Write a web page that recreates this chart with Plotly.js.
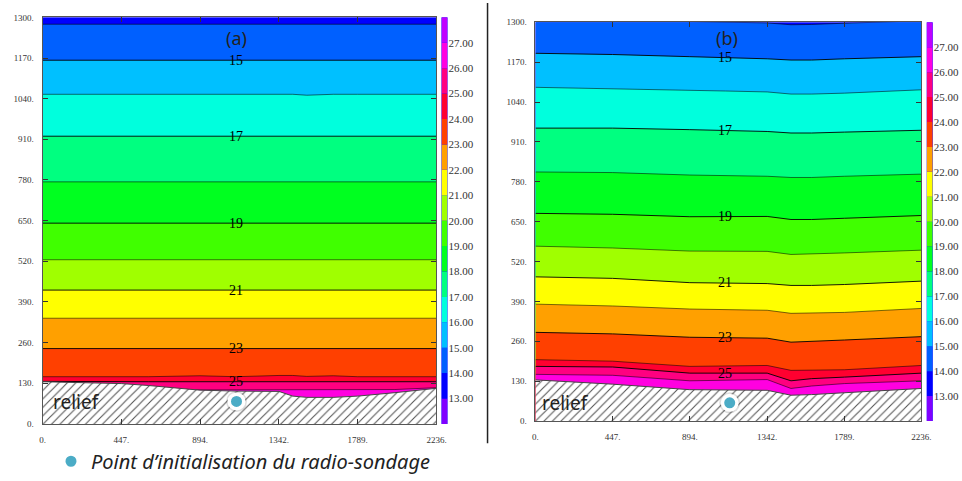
<!DOCTYPE html>
<html><head><meta charset="utf-8">
<script src="https://cdn.plot.ly/plotly-3.0.1.min.js"></script>
<style>html,body{margin:0;padding:0;background:#fff}#chart{width:962px;height:481px}</style>
</head><body><div id="chart"></div>
<script>
// ---- data ----
const LEVELS = [14, 15, 16, 17, 18, 19, 20, 21, 22, 23, 24, 25, 26];
const LABELED_LEVELS = [15, 17, 19, 21, 23, 25];
// band colours: <13, 13-14, 14-15, ..., 26-27, >27
const BAND_COLORS = ['#8000ff', '#0000ff', '#0060ff', '#00c0ff', '#00ffdd', '#00ff80', '#00ff20', '#40ff00',
  '#a0ff00', '#ffff00', '#ffa000', '#ff4000', '#ff0030', '#ff0080', '#ff00e0', '#c000ff'];
const BAND_BASES = [12, 13, 14, 15, 16, 17, 18, 19, 20, 21, 22, 23, 24, 25, 26, 27];
const COLORBAR_TICKS = [13, 14, 15, 16, 17, 18, 19, 20, 21, 22, 23, 24, 25, 26, 27];
const COLORBAR_TEXT = ['13.00', '14.00', '15.00', '16.00', '17.00', '18.00', '19.00', '20.00', '21.00',
  '22.00', '23.00', '24.00', '25.00', '26.00', '27.00'];
const X_TICKS = [0, 447, 894, 1342, 1789, 2236];
const X_TEXT = ['0.', '447.', '894.', '1342.', '1789.', '2236.'];
const Y_TICKS = [0, 130, 260, 390, 520, 650, 780, 910, 1040, 1170, 1300];
const Y_TEXT = ['0.', '130.', '260.', '390.', '520.', '650.', '780.', '910.', '1040.', '1170.', '1300.'];

// panel (a): isotherm heights (m) at stations along the section
const X_A = [0, 200, 447, 600, 894, 1100, 1342, 1420, 1500, 1650, 1789, 2000, 2236];
const ISO_A = [
  [1278, 1278, 1278, 1278, 1278, 1278, 1278, 1278, 1278, 1278, 1278, 1278, 1278], // 14
  [1163, 1163, 1163, 1163, 1163, 1163, 1163, 1163, 1163, 1163, 1163, 1163, 1163], // 15
  [1054, 1054, 1054, 1054, 1054, 1054, 1054, 1054, 1051, 1054, 1054, 1054, 1054], // 16
  [920, 920, 920, 920, 920, 920, 920, 920, 920, 920, 920, 920, 920],             // 17
  [774, 774, 774, 774, 774, 774, 774, 774, 774, 774, 774, 774, 774],             // 18
  [642, 642, 641, 640, 641, 642, 642, 642, 642, 642, 642, 642, 642],             // 19
  [525, 525, 525, 525, 525, 525, 525, 525, 525, 525, 525, 525, 525],             // 20
  [428, 428, 428, 428, 428, 428, 428, 428, 428, 428, 428, 428, 428],             // 21
  [338, 338, 338, 338, 338, 338, 338, 338, 338, 338, 338, 338, 338],             // 22
  [241, 241, 241, 241, 241, 241, 241, 241, 241, 241, 241, 241, 241],             // 23
  [151, 151, 151, 151, 154, 151, 155, 155, 152, 154, 151, 151, 151],             // 24
  [136, 135, 135, 135, 135, 135, 135, 135, 135, 135, 135, 135, 135],             // 25
  [108, 108, 108, 108, 108, 108, 108, 108, 108, 108, 108, 110, 116]              // 26
];
const RELIEF_A = [135, 133, 129, 123, 108, 105, 104, 89, 85, 85, 89, 100, 114];

// panel (b)
const X_B = [0, 447, 894, 1100, 1342, 1480, 1600, 1789, 2236];
const ISO_B = [
  [1312, 1308, 1304, 1302, 1298, 1292, 1293, 1297, 1305], // 14
  [1199, 1195, 1188, 1185, 1181, 1177, 1177, 1181, 1188], // 15
  [1088, 1084, 1078, 1076, 1073, 1066, 1066, 1069, 1080], // 16
  [955, 955, 950, 948, 944, 939, 939, 942, 948],          // 17
  [812, 810, 802, 800, 798, 794, 794, 798, 805],          // 18
  [677, 674, 666, 666, 667, 657, 657, 661, 670],          // 19
  [570, 564, 554, 554, 553, 543, 544, 548, 557],          // 20
  [470, 465, 451, 450, 448, 442, 442, 445, 456],          // 21
  [381, 375, 365, 363, 361, 351, 352, 354, 367],          // 22
  [289, 284, 273, 272, 270, 257, 259, 264, 275],          // 23
  [200, 195, 178, 179, 181, 165, 165, 167, 181],          // 24
  [178, 176, 156, 156, 156, 131, 138, 143, 156],          // 25
  [152, 149, 131, 132, 135, 106, 114, 122, 131]           // 26
];
const RELIEF_B = [134, 120, 102, 101, 100, 84, 86, 92, 106];

const SONDE_X = [1101, 1125];
const SONDE_H = [72, 59];
const LABEL_STATION_A = 5; // x = 1100
const LABEL_STATION_B = 3; // x = 1100

// ---- build ----
const traces = [];
const annotations = [];
function panel(X, ISO, RELIEF, xa, ya, sx, sh, labelIdx, showLeg) {
  LEVELS.forEach((lev, i) => {
    traces.push({
      type: 'scatter', mode: 'lines', x: X, y: ISO[i], xaxis: xa, yaxis: ya,
      fill: 'tozeroy', fillcolor: BAND_COLORS[lev - 12],
      line: {color: LABELED_LEVELS.includes(lev) ? '#000' : 'rgba(0,0,0,0.6)', width: 0.9},
      hoverinfo: 'skip', showlegend: false
    });
    if (LABELED_LEVELS.includes(lev)) {
      annotations.push({
        xref: xa, yref: ya, x: X[labelIdx], y: ISO[i][labelIdx], text: String(lev),
        showarrow: false, font: {family: 'Liberation Serif', size: 14, color: '#000'},
        xanchor: 'center', yanchor: 'middle'
      });
    }
  });
  traces.push({
    type: 'scatter', mode: 'lines', x: X, y: RELIEF, xaxis: xa, yaxis: ya,
    fill: 'tozeroy', fillcolor: 'white',
    fillpattern: {shape: '/', fgcolor: '#555', bgcolor: 'white', size: 6, solidity: 0.18},
    line: {color: '#444', width: 1}, hoverinfo: 'skip', showlegend: false
  });
  traces.push({
    type: 'scatter', mode: 'markers', x: [sx], y: [sh], xaxis: xa, yaxis: ya,
    marker: {size: 21, color: 'rgba(0,0,0,0.13)'}, hoverinfo: 'skip', showlegend: false
  });
  traces.push({
    type: 'scatter', mode: 'markers', x: [sx], y: [sh], xaxis: xa, yaxis: ya,
    name: 'Point d\u2019initialisation du radio-sondage',
    marker: {size: 14.5, color: '#4bacc6', line: {color: 'white', width: 3.5}},
    hoverinfo: 'skip', showlegend: showLeg
  });
}
panel(X_A, ISO_A, RELIEF_A, 'x', 'y', SONDE_X[0], SONDE_H[0], LABEL_STATION_A, true);
panel(X_B, ISO_B, RELIEF_B, 'x2', 'y2', SONDE_X[1], SONDE_H[1], LABEL_STATION_B, false);

// colour bars
[['x3', 'y3'], ['x4', 'y4']].forEach(([xa, ya]) => {
  traces.push({
    type: 'bar', x: BAND_BASES.map(() => 0), y: BAND_BASES.map(() => 1), base: BAND_BASES,
    width: 1, xaxis: xa, yaxis: ya, marker: {color: BAND_COLORS, line: {width: 0}},
    hoverinfo: 'skip', showlegend: false
  });
});

// panel texts
annotations.push(
  {xref: 'x', yref: 'y', x: 1101, y: 1234, text: '(a)', showarrow: false,
   font: {family: 'Noto Sans', size: 18, color: '#222'}},
  {xref: 'x2', yref: 'y2', x: 1112, y: 1250, text: '(b)', showarrow: false,
   font: {family: 'Noto Sans', size: 18, color: '#222'}},
  {xref: 'x', yref: 'y', x: 50, y: 69, text: 'relief', showarrow: false, xanchor: 'left',
   font: {family: 'Noto Sans', size: 19, color: '#222'}},
  {xref: 'x2', yref: 'y2', x: 28, y: 57, text: 'relief', showarrow: false, xanchor: 'left',
   font: {family: 'Noto Sans', size: 19, color: '#222'}}
);

const tickFont = {family: 'Liberation Serif', size: 9, color: '#333'};
function xAxis(domain, anchor) {
  return {domain, anchor, range: [0, 2236], tickmode: 'array', tickvals: X_TICKS, ticktext: X_TEXT,
    ticks: 'inside', ticklen: 5, tickcolor: '#333', mirror: 'ticks', showline: true, linecolor: '#555',
    linewidth: 1, showgrid: false, zeroline: false, tickfont: tickFont, ticklabelstandoff: 7, fixedrange: true};
}
function yAxis(domain, anchor) {
  return {domain, anchor, range: [0, 1300], tickmode: 'array', tickvals: Y_TICKS, ticktext: Y_TEXT,
    ticks: 'inside', ticklen: 5, tickcolor: '#333', mirror: 'ticks', showline: true, linecolor: '#555',
    linewidth: 1, showgrid: false, zeroline: false, tickfont: tickFont, ticklabelstandoff: 6, fixedrange: true};
}
function cbX(domain, anchor) {
  return {domain, anchor, range: [-0.5, 0.5], visible: false, fixedrange: true};
}
function cbY(domain, anchor) {
  return {domain, anchor, range: [12, 28], side: 'right', tickmode: 'array', tickvals: COLORBAR_TICKS,
    ticktext: COLORBAR_TEXT, ticks: '', showline: false, showgrid: false, zeroline: false,
    tickfont: {family: 'Liberation Serif', size: 11, color: '#333'}, ticklabelstandoff: 0, fixedrange: true};
}

const layout = {
  width: 962, height: 481, margin: {l: 0, r: 0, t: 0, b: 0},
  paper_bgcolor: 'white', plot_bgcolor: BAND_COLORS[1],
  xaxis: xAxis([0.04418, 0.45374], 'y'),
  yaxis: yAxis([0.11123, 0.96362], 'x'),
  xaxis2: xAxis([0.55665, 0.95790], 'y2'),
  yaxis2: yAxis([0.11746, 0.95322], 'x2'),
  xaxis3: cbX([0.45894, 0.46518], 'y3'),
  yaxis3: cbY([0.11123, 0.96362], 'x3'),
  xaxis4: cbX([0.96331, 0.96954], 'y4'),
  yaxis4: cbY([0.11746, 0.95322], 'x4'),
  barmode: 'overlay',
  showlegend: true,
  legend: {x: 0.053, xanchor: 'left', y: 0.033, yanchor: 'middle', bgcolor: 'rgba(0,0,0,0)',
    font: {family: 'Noto Sans', size: 20, color: '#222', style: 'italic'}},
  annotations,
  shapes: [{type: 'line', xref: 'paper', yref: 'paper', x0: 0.5068, x1: 0.5068, y0: 0.0707, y1: 0.9938,
    line: {color: '#222', width: 1.5}}]
};
Plotly.newPlot('chart', traces, layout, {staticPlot: true, displayModeBar: false});
</script></body></html>
